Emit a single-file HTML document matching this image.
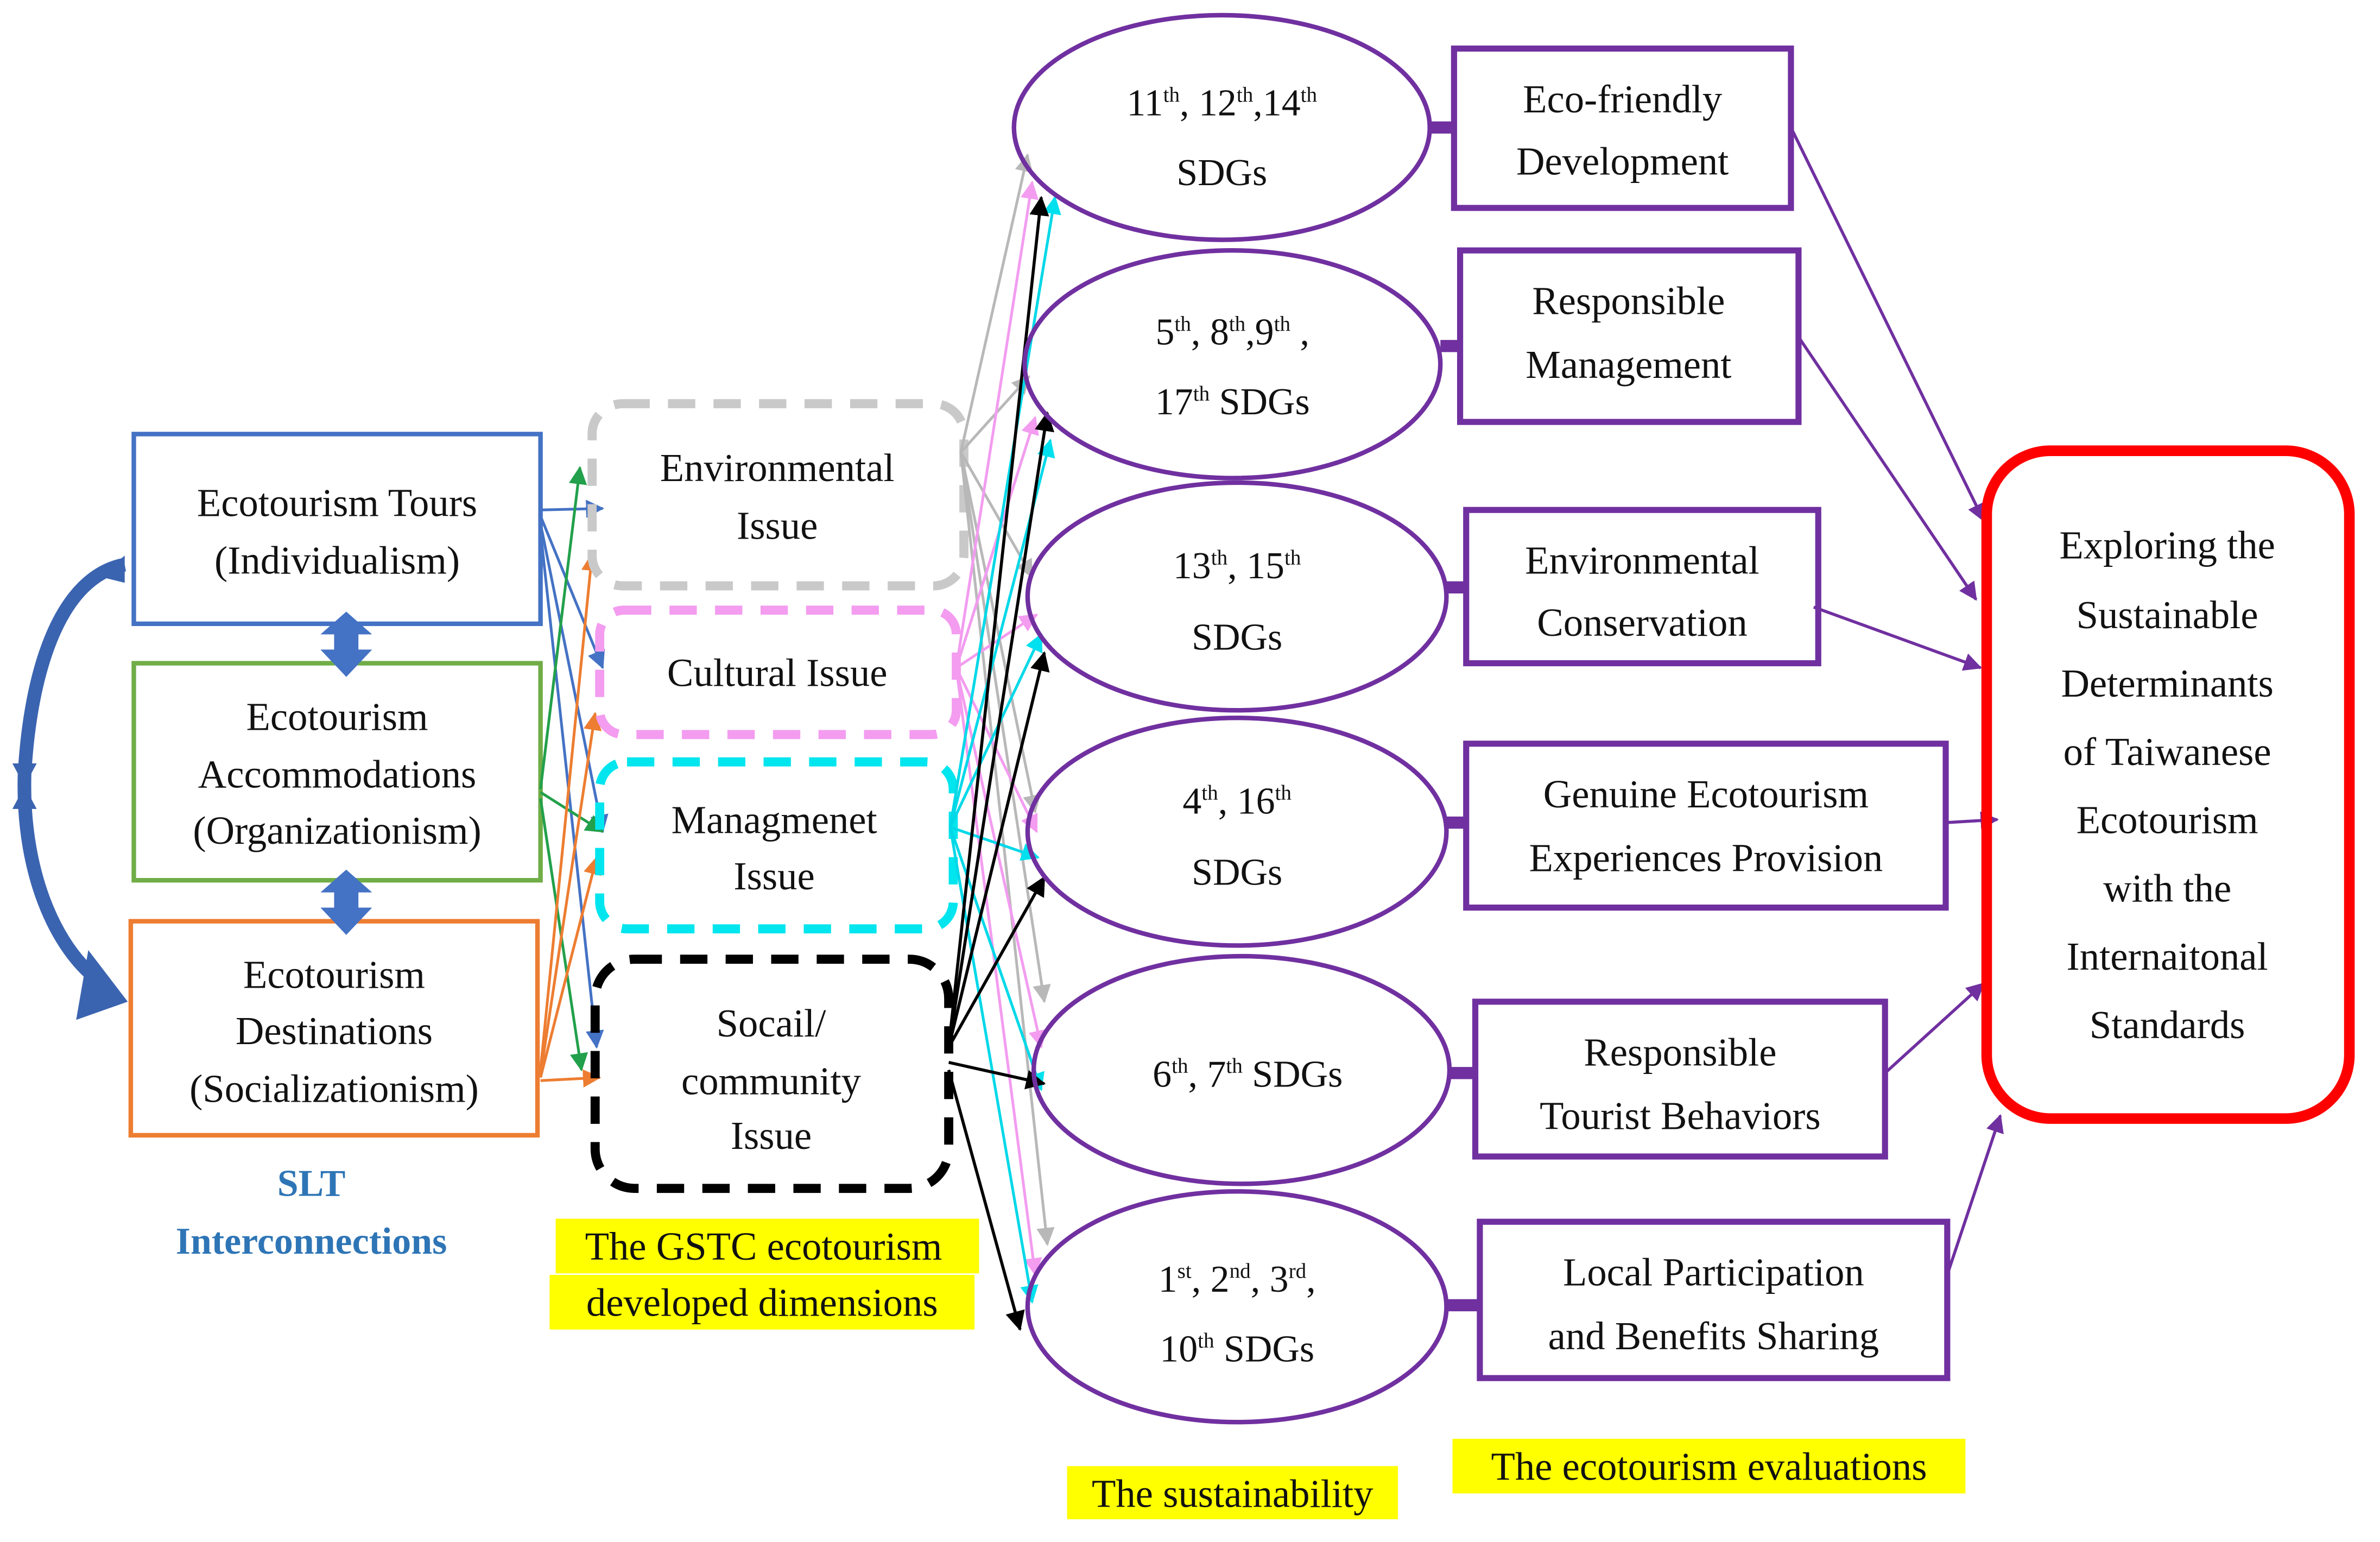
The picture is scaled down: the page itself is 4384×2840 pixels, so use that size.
<!DOCTYPE html>
<html><head><meta charset="utf-8"><style>
html,body{margin:0;padding:0;background:#fff;}
svg{display:block;}
text{font-family:"Liberation Serif",serif;fill:#111;}
</style></head><body>
<svg width="4384" height="2840" viewBox="0 0 1568 1016" xmlns="http://www.w3.org/2000/svg">
<defs>
<marker id="ag" markerWidth="12" markerHeight="12" refX="11" refY="6" orient="auto" markerUnits="userSpaceOnUse"><path d="M0,0L12,6L0,12z" fill="#22A04B"/></marker>
<marker id="ao" markerWidth="12" markerHeight="12" refX="11" refY="6" orient="auto" markerUnits="userSpaceOnUse"><path d="M0,0L12,6L0,12z" fill="#ED7D31"/></marker>
<marker id="abl" markerWidth="12" markerHeight="12" refX="11" refY="6" orient="auto" markerUnits="userSpaceOnUse"><path d="M0,0L12,6L0,12z" fill="#4472C4"/></marker>
<marker id="agr" markerWidth="12" markerHeight="12" refX="11" refY="6" orient="auto" markerUnits="userSpaceOnUse"><path d="M0,0L12,6L0,12z" fill="#b8b8b8"/></marker>
<marker id="api" markerWidth="12" markerHeight="12" refX="11" refY="6" orient="auto" markerUnits="userSpaceOnUse"><path d="M0,0L12,6L0,12z" fill="#F39CF0"/></marker>
<marker id="acy" markerWidth="12" markerHeight="12" refX="11" refY="6" orient="auto" markerUnits="userSpaceOnUse"><path d="M0,0L12,6L0,12z" fill="#00E0EE"/></marker>
<marker id="abk" markerWidth="13" markerHeight="13" refX="12" refY="6.5" orient="auto" markerUnits="userSpaceOnUse"><path d="M0,0L13,6.5L0,13z" fill="#000"/></marker>
<marker id="apu" markerWidth="12" markerHeight="12" refX="11" refY="6" orient="auto" markerUnits="userSpaceOnUse"><path d="M0,0L12,6L0,12z" fill="#7030A0"/></marker>
</defs>

<rect x="88" y="286" width="268" height="125" fill="none" stroke="#4472C4" stroke-width="3"/>
<rect x="88" y="437" width="268" height="143" fill="none" stroke="#70AD47" stroke-width="3"/>
<rect x="86" y="607" width="268" height="141" fill="none" stroke="#ED7D31" stroke-width="3"/>
<g font-size="26" text-anchor="middle">
<text x="222" y="340">Ecotourism Tours</text><text x="222" y="378">(Individualism)</text>
<text x="222" y="481">Ecotourism</text><text x="222" y="519">Accommodations</text><text x="222" y="556">(Organizationism)</text>
<text x="220" y="651">Ecotourism</text><text x="220" y="688">Destinations</text><text x="220" y="726">(Socializationism)</text>
</g>
<g fill="#4472C4">
<path d="M228,403L245,418L236,418L236,428L245,428L228,446L211,428L220,428L220,418L211,418z"/>
<path d="M228,573L245,588L236,588L236,598L245,598L228,616L211,598L220,598L220,588L211,588z"/>
</g>
<path d="M82,372 C40,380 20,440 16,510 C14,580 40,630 68,648" fill="none" stroke="#3B64B0" stroke-width="9"/>
<path d="M82,366 L82,384 L66,380z" fill="#3B64B0"/>
<path d="M58,626 L84,660 L50,672z" fill="#3B64B0"/>
<path d="M8,503 L24,503 L16,518z M8,533 L24,533 L16,518z" fill="#3B64B0"/>
<text x="205" y="788" font-size="25" font-weight="bold" text-anchor="middle" style="fill:#2E75B6">SLT</text>
<text x="205" y="826" font-size="25" font-weight="bold" text-anchor="middle" style="fill:#2E75B6">Interconnections</text>

<g stroke-width="1.8" fill="none">
<line x1="356" y1="336" x2="397" y2="335" stroke="#4472C4" marker-end="url(#abl)"/>
<line x1="356" y1="340" x2="397" y2="440" stroke="#4472C4" marker-end="url(#abl)"/>
<line x1="356" y1="345" x2="397" y2="548" stroke="#4472C4" marker-end="url(#abl)"/>
<line x1="356" y1="350" x2="393" y2="690" stroke="#4472C4" marker-end="url(#abl)"/>
<line x1="356" y1="520" x2="382" y2="308" stroke="#22A04B" marker-end="url(#ag)"/>
<line x1="356" y1="522" x2="397" y2="548" stroke="#22A04B" marker-end="url(#ag)"/>
<line x1="356" y1="526" x2="383" y2="705" stroke="#22A04B" marker-end="url(#ag)"/>
<line x1="356" y1="705" x2="390" y2="365" stroke="#ED7D31" marker-end="url(#ao)"/>
<line x1="356" y1="708" x2="392" y2="470" stroke="#ED7D31" marker-end="url(#ao)"/>
<line x1="356" y1="710" x2="393" y2="565" stroke="#ED7D31" marker-end="url(#ao)"/>
<line x1="356" y1="712" x2="395" y2="710" stroke="#ED7D31" marker-end="url(#ao)"/>
</g>

<rect x="390" y="266" width="245" height="120" rx="20" fill="none" stroke="#C9C9C9" stroke-width="6" stroke-dasharray="18,12"/>
<rect x="395" y="402" width="235" height="82" rx="16" fill="none" stroke="#F39CF0" stroke-width="6" stroke-dasharray="18,12"/>
<rect x="395" y="502" width="233" height="110" rx="18" fill="none" stroke="#00E5EE" stroke-width="6" stroke-dasharray="18,12"/>
<rect x="392" y="632" width="233" height="151" rx="26" fill="none" stroke="#000" stroke-width="6" stroke-dasharray="18,12"/>
<g font-size="26" text-anchor="middle">
<text x="512" y="317">Environmental</text><text x="512" y="355">Issue</text>
<text x="512" y="452">Cultural Issue</text>
<text x="510" y="549">Managmenet</text><text x="510" y="586">Issue</text>
<text x="508" y="683">Socail/</text><text x="508" y="721">community</text><text x="508" y="757">Issue</text>
</g>
<rect x="366" y="803" width="279" height="36" fill="#FFFF00"/>
<rect x="362" y="840" width="280" height="36" fill="#FFFF00"/>
<text x="503" y="830" font-size="26" text-anchor="middle">The GSTC ecotourism</text>
<text x="502" y="867" font-size="26" text-anchor="middle">developed dimensions</text>

<g stroke-width="1.8" fill="none">
<g stroke="#b8b8b8">
<line x1="633" y1="298" x2="677" y2="102" marker-end="url(#agr)"/>
<line x1="633" y1="298" x2="678" y2="248" marker-end="url(#agr)"/>
<line x1="633" y1="298" x2="680" y2="380" marker-end="url(#agr)"/>
<line x1="633" y1="298" x2="682" y2="535" marker-end="url(#agr)"/>
<line x1="633" y1="298" x2="688" y2="660" marker-end="url(#agr)"/>
<line x1="633" y1="298" x2="690" y2="820" marker-end="url(#agr)"/>
</g>
<g stroke="#F39CF0">
<line x1="630" y1="440" x2="680" y2="120" marker-end="url(#api)"/>
<line x1="630" y1="440" x2="682" y2="275" marker-end="url(#api)"/>
<line x1="630" y1="440" x2="683" y2="405" marker-end="url(#api)"/>
<line x1="630" y1="440" x2="683" y2="548" marker-end="url(#api)"/>
<line x1="630" y1="440" x2="686" y2="690" marker-end="url(#api)"/>
<line x1="630" y1="440" x2="682" y2="840" marker-end="url(#api)"/>
</g>
<g stroke="#00D8E8">
<line x1="626" y1="545" x2="695" y2="130" marker-end="url(#acy)"/>
<line x1="626" y1="545" x2="692" y2="290" marker-end="url(#acy)"/>
<line x1="626" y1="545" x2="686" y2="418" marker-end="url(#acy)"/>
<line x1="626" y1="545" x2="684" y2="565" marker-end="url(#acy)"/>
<line x1="626" y1="545" x2="686" y2="718" marker-end="url(#acy)"/>
<line x1="626" y1="545" x2="680" y2="858" marker-end="url(#acy)"/>
</g>
<g stroke="#000" stroke-width="2">
<line x1="625" y1="690" x2="686" y2="130" marker-end="url(#abk)"/>
<line x1="625" y1="690" x2="690" y2="272" marker-end="url(#abk)"/>
<line x1="625" y1="690" x2="688" y2="430" marker-end="url(#abk)"/>
<line x1="625" y1="690" x2="688" y2="578" marker-end="url(#abk)"/>
<line x1="625" y1="700" x2="688" y2="714" marker-end="url(#abk)"/>
<line x1="625" y1="705" x2="672" y2="876" marker-end="url(#abk)"/>
</g>
</g>

<g fill="none" stroke="#7030A0" stroke-width="3">
<ellipse cx="805" cy="84" rx="137" ry="74"/>
<ellipse cx="812" cy="240" rx="137" ry="75"/>
<ellipse cx="815" cy="393" rx="138" ry="75"/>
<ellipse cx="815" cy="548" rx="138" ry="75"/>
<ellipse cx="818" cy="705" rx="137" ry="75"/>
<ellipse cx="815" cy="861" rx="138" ry="76"/>
</g>
<g font-size="25" text-anchor="middle">
<text x="805" y="76">11<tspan font-size="14" dy="-9">th</tspan><tspan dy="9">, 12</tspan><tspan font-size="14" dy="-9">th</tspan><tspan dy="9">,14</tspan><tspan font-size="14" dy="-9">th</tspan></text>
<text x="805" y="122">SDGs</text>
<text x="812" y="227">5<tspan font-size="14" dy="-9">th</tspan><tspan dy="9">, 8</tspan><tspan font-size="14" dy="-9">th</tspan><tspan dy="9">,9</tspan><tspan font-size="14" dy="-9">th</tspan><tspan dy="9"> ,</tspan></text>
<text x="812" y="273">17<tspan font-size="14" dy="-9">th</tspan><tspan dy="9"> SDGs</tspan></text>
<text x="815" y="381">13<tspan font-size="14" dy="-9">th</tspan><tspan dy="9">, 15</tspan><tspan font-size="14" dy="-9">th</tspan></text>
<text x="815" y="428">SDGs</text>
<text x="815" y="536">4<tspan font-size="14" dy="-9">th</tspan><tspan dy="9">, 16</tspan><tspan font-size="14" dy="-9">th</tspan></text>
<text x="815" y="583">SDGs</text>
<text x="822" y="716">6<tspan font-size="14" dy="-9">th</tspan><tspan dy="9">, 7</tspan><tspan font-size="14" dy="-9">th</tspan><tspan dy="9"> SDGs</tspan></text>
<text x="815" y="851">1<tspan font-size="14" dy="-9">st</tspan><tspan dy="9">, 2</tspan><tspan font-size="14" dy="-9">nd</tspan><tspan dy="9">, 3</tspan><tspan font-size="14" dy="-9">rd</tspan><tspan dy="9">,</tspan></text>
<text x="815" y="897">10<tspan font-size="14" dy="-9">th</tspan><tspan dy="9"> SDGs</tspan></text>
</g>

<g fill="none" stroke="#7030A0" stroke-width="4">
<rect x="958" y="32" width="222" height="105"/>
<rect x="962" y="165" width="223" height="113"/>
<rect x="966" y="336" width="232" height="101"/>
<rect x="966" y="490" width="316" height="108"/>
<rect x="972" y="660" width="270" height="102"/>
<rect x="975" y="805" width="308" height="103"/>
</g>
<g stroke="#7030A0" stroke-width="8">
<line x1="942" y1="84" x2="958" y2="84"/>
<line x1="949" y1="228" x2="962" y2="228"/>
<line x1="953" y1="387" x2="966" y2="387"/>
<line x1="953" y1="542" x2="966" y2="542"/>
<line x1="955" y1="707" x2="972" y2="707"/>
<line x1="953" y1="860" x2="975" y2="860"/>
</g>
<g font-size="26" text-anchor="middle">
<text x="1069" y="74">Eco-friendly</text><text x="1069" y="115">Development</text>
<text x="1073" y="207">Responsible</text><text x="1073" y="249">Management</text>
<text x="1082" y="378">Environmental</text><text x="1082" y="419">Conservation</text>
<text x="1124" y="532">Genuine Ecotourism</text><text x="1124" y="574">Experiences Provision</text>
<text x="1107" y="702">Responsible</text><text x="1107" y="744">Tourist Behaviors</text>
<text x="1129" y="847">Local Participation</text><text x="1129" y="889">and Benefits Sharing</text>
</g>
<g stroke="#7030A0" stroke-width="2" fill="none">
<line x1="1180" y1="84" x2="1307" y2="343" marker-end="url(#apu)"/>
<line x1="1185" y1="222" x2="1302" y2="395" marker-end="url(#apu)"/>
<line x1="1195" y1="400" x2="1305" y2="440" marker-end="url(#apu)"/>
<line x1="1282" y1="542" x2="1316" y2="540" marker-end="url(#apu)"/>
<line x1="1242" y1="707" x2="1307" y2="648" marker-end="url(#apu)"/>
<line x1="1283" y1="840" x2="1318" y2="735" marker-end="url(#apu)"/>
</g>

<rect x="1309" y="297" width="239" height="440" rx="42" fill="none" stroke="#FF0000" stroke-width="7"/>
<g font-size="26" text-anchor="middle">
<text x="1428" y="368">Exploring the</text>
<text x="1428" y="414">Sustainable</text>
<text x="1428" y="459">Determinants</text>
<text x="1428" y="504">of Taiwanese</text>
<text x="1428" y="549">Ecotourism</text>
<text x="1428" y="594">with the</text>
<text x="1428" y="639">Internaitonal</text>
<text x="1428" y="684">Standards</text>
</g>

<rect x="703" y="966" width="218" height="35" fill="#FFFF00"/>
<text x="812" y="993" font-size="26" text-anchor="middle">The sustainability</text>
<rect x="957" y="948" width="338" height="36" fill="#FFFF00"/>
<text x="1126" y="975" font-size="26" text-anchor="middle">The ecotourism evaluations</text>
</svg>
</body></html>
